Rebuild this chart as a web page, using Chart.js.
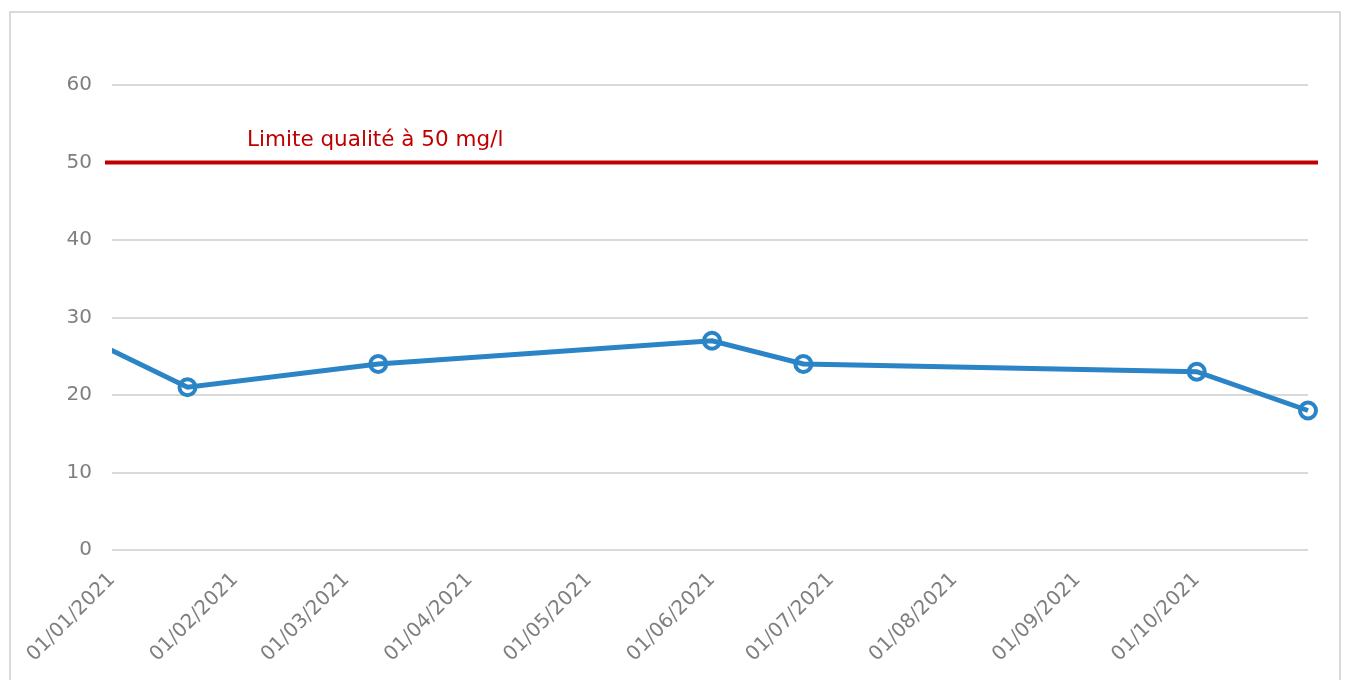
<!DOCTYPE html>
<html>
<head>
<meta charset="utf-8">
<script src="https://cdn.jsdelivr.net/npm/chart.js@4"></script>
<style>
    html, body { margin: 0; padding: 0; background: #fff; }
    #wrap { position: absolute; left: 0; top: 0; width: 1352px; height: 680px; }
    #frame { position: absolute; left: 9px; top: 11px; width: 1332px; height: 690px; border: 2px solid #d9d9d9; box-sizing: border-box; }
</style>
</head>
<body>
<div id="wrap">
    <div id="frame"></div>
    <canvas id="lineChart" width="1352" height="680"></canvas>
</div>
<script>
// sample dates and values (mg/l)
let dates = ['2020-12-15', '2021-01-20', '2021-03-09', '2021-06-01', '2021-06-24', '2021-10-01', '2021-10-29'];
let values = [30, 21, 24, 27, 24, 23, 18];

// x axis ticks (first of each month)
let tickDates = ['2021-01-01', '2021-02-01', '2021-03-01', '2021-04-01', '2021-05-01', '2021-06-01', '2021-07-01', '2021-08-01', '2021-09-01', '2021-10-01'];
let tickLabels = ['01/01/2021', '01/02/2021', '01/03/2021', '01/04/2021', '01/05/2021', '01/06/2021', '01/07/2021', '01/08/2021', '01/09/2021', '01/10/2021'];
let yTicks = [0, 10, 20, 30, 40, 50, 60];

let limitValue = 50;
let limitLabel = 'Limite qualité à 50 mg/l';

const start = Date.UTC(2021, 0, 1);
function dayOf(s) {
    let p = s.split('-');
    return Math.round((Date.UTC(+p[0], +p[1] - 1, +p[2]) - start) / 86400000);
}

let points = [];
dates.forEach((d, i) => {
    points.push({x: dayOf(d), y: values[i]});
});
let tickDays = tickDates.map(dayOf);

const font = "'DejaVu Sans', sans-serif";

// red limit line + caption
const limitPlugin = {
    id: 'limitLine',
    beforeDatasetsDraw(chart) {
        const ctx = chart.ctx;
        const area = chart.chartArea;
        const y = chart.scales.y.getPixelForValue(limitValue);
        ctx.save();
        ctx.strokeStyle = '#c00000';
        ctx.lineWidth = 4;
        ctx.beginPath();
        ctx.moveTo(area.left - 7, y);
        ctx.lineTo(area.right + 10, y);
        ctx.stroke();
        ctx.fillStyle = '#c00000';
        ctx.font = '21.5px ' + font;
        ctx.textBaseline = 'alphabetic';
        ctx.textAlign = 'left';
        ctx.fillText(limitLabel, chart.scales.x.getPixelForValue(34), y - 17);
        ctx.restore();
    }
};

const lineChart = document.getElementById('lineChart').getContext('2d');

new Chart(lineChart, {
    type: 'line',
    data: {
        datasets: [
            {
                label: 'Nitrates',
                data: points,
                borderColor: '#2a84c6',
                borderWidth: 5,
                pointRadius: 8,
                pointBorderWidth: 4,
                pointBorderColor: '#2a84c6',
                pointBackgroundColor: 'rgba(255,255,255,0)',
                tension: 0,
                clip: {left: 0, right: 12, top: 12, bottom: 12}
            }
        ]
    },
    options: {
        responsive: false,
        animation: false,
        events: [],
        layout: {
            padding: {top: 85, right: 44, left: 0, bottom: 0}
        },
        plugins: {
            legend: false,
            tooltip: {enabled: false}
        },
        scales: {
            x: {
                type: 'linear',
                min: 0,
                max: dayOf(dates[dates.length - 1]),
                grid: {display: false},
                border: {display: false},
                afterFit: (axis) => { axis.height = 130; },
                afterBuildTicks: (axis) => {
                    axis.ticks = tickDays.map(v => ({value: v}));
                },
                ticks: {
                    autoSkip: false,
                    minRotation: 45,
                    maxRotation: 45,
                    padding: 10,
                    color: '#7f7f7f',
                    font: {family: font, size: 20},
                    callback: (value) => {
                        let i = tickDays.indexOf(value);
                        return i >= 0 ? tickLabels[i] : '';
                    }
                }
            },
            y: {
                min: 0,
                max: 60,
                afterFit: (axis) => { axis.width = 112; },
                afterBuildTicks: (axis) => {
                    axis.ticks = yTicks.map(v => ({value: v}));
                },
                grid: {
                    color: '#d9d9d9',
                    lineWidth: 2,
                    drawTicks: false
                },
                border: {display: false},
                ticks: {
                    padding: 20,
                    color: '#7f7f7f',
                    font: {family: font, size: 20}
                }
            }
        }
    },
    plugins: [limitPlugin]
});
</script>
</body>
</html>
